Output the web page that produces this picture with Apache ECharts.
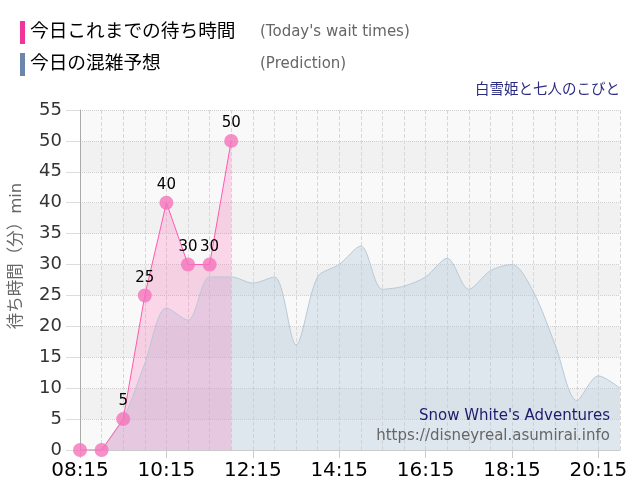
<!DOCTYPE html>
<html>
<head>
<meta charset="utf-8">
<script src="https://cdn.jsdelivr.net/npm/echarts@6/dist/echarts.min.js"></script>
<style>
html,body{margin:0;padding:0;background:#fff;}
#chart{width:640px;height:500px;}
</style>
</head>
<body>
<div id="chart"></div>
<script>
const categories = ['08:15','08:30','08:45','09:00','09:15','09:30','09:45','10:00','10:15','10:30','10:45','11:00','11:15','11:30','11:45','12:00','12:15','12:30','12:45','13:00','13:15','13:30','13:45','14:00','14:15','14:30','14:45','15:00','15:15','15:30','15:45','16:00','16:15','16:30','16:45','17:00','17:15','17:30','17:45','18:00','18:15','18:30','18:45','19:00','19:15','19:30','19:45','20:00','20:15','20:30','20:45'];
const todayWait = [0,null,0,null,5,null,25,null,40,null,30,null,30,null,50,null,null,null,null,null,null,null,null,null,null,null,null,null,null,null,null,null,null,null,null,null,null,null,null,null,null,null,null,null,null,null,null,null,null,null,null];
const prediction = [null,null,0,null,5,null,14,null,23,null,21,null,28,null,28,null,27,null,28,null,17,null,28,null,30,null,33,null,26,null,26.5,null,28,null,31,null,26,null,29,null,30,null,25.5,null,17,null,8,null,12,null,10];
const yTicks = {min:0, max:55, interval:5};
const seriesNames = ['今日これまでの待ち時間','今日の混雑予想'];
const seriesEnglish = ["(Today's wait times)", '(Prediction)'];
const attractionJa = '白雪姫と七人のこびと';
const attractionEn = "Snow White's Adventures";
const siteUrl = 'https://disneyreal.asumirai.info';
const yAxisName = '待ち時間（分）min';

const chart = echarts.init(document.getElementById('chart'), null, {renderer:'canvas'});
const font = 'Verdana, "DejaVu Sans", "Noto Sans CJK JP", sans-serif';
chart.setOption({
  animation:false,
  textStyle:{fontFamily:font},
  grid:{left:80,right:20,top:110,bottom:50,containLabel:false},
  legend:{
    orient:'vertical', left:15, top:16, itemGap:9,
    icon:'rect', itemWidth:5, itemHeight:23,
    data:[
      {name:seriesNames[0], itemStyle:{color:'#f0359a', borderWidth:0}},
      {name:seriesNames[1], itemStyle:{color:'#6a86aa', borderWidth:0}}
    ],
    formatter:function(name){
      const i = seriesNames.indexOf(name);
      return '{a|'+name+'}{b|'+seriesEnglish[i]+'}';
    },
    textStyle:{
      rich:{
        a:{fontSize:18.7, color:'#000', width:230, fontFamily:font},
        b:{fontSize:15, color:'#666', fontFamily:font}
      }
    },
    selectedMode:false
  },
  graphic:[
    {type:'text', right:20, top:83, style:{text:attractionJa, fontSize:14.5, fill:'#2b2b80', fontFamily:font}},
    {type:'text', x:17, y:256, rotation:Math.PI/2, style:{text:yAxisName, fontSize:16.5, fill:'#666', align:'center', verticalAlign:'middle', fontFamily:font}},
    {type:'text', x:610, y:416, style:{text:attractionEn, fontSize:15, fill:'#1c1c6c', align:'right', verticalAlign:'middle', fontFamily:font}, z:100},
    {type:'text', x:610, y:436, style:{text:siteUrl, fontSize:15, fill:'#666', align:'right', verticalAlign:'middle', fontFamily:font}, z:100}
  ],
  xAxis:{
    type:'category', data:categories, boundaryGap:false,
    axisLine:{lineStyle:{color:'#ccc'}},
    axisTick:{interval:7, length:8, lineStyle:{color:'#ccc'}},
    axisLabel:{interval:7, fontSize:20, color:'#000', margin:11},
    splitLine:{show:true, interval:1, lineStyle:{color:'#d8d8d8', type:'dashed'}}
  },
  yAxis:{
    type:'value', min:yTicks.min, max:yTicks.max, interval:yTicks.interval,
    axisLine:{show:true, lineStyle:{color:'#aaa'}},
    axisTick:{show:true, length:14, lineStyle:{color:'#ddd'}},
    axisLabel:{fontSize:18, color:'#333', margin:18},
    splitLine:{lineStyle:{color:'#cfcfcf', type:'dotted'}},
    splitArea:{show:true, areaStyle:{color:['#f9f9f9','#f1f1f1']}}
  },
  series:[
    {
      name:seriesNames[1], type:'line', data:prediction, connectNulls:true, smooth:0.3,
      showSymbol:false, symbol:'none',
      lineStyle:{color:'#b8c8d6', width:1},
      itemStyle:{color:'#6a86aa'},
      areaStyle:{color:'rgba(180,202,222,0.55)'}
    },
    {
      name:seriesNames[0], type:'line', data:todayWait, connectNulls:true,
      symbol:'circle', symbolSize:14, showSymbol:true, showAllSymbol:true,
      lineStyle:{color:'#ff5aae', width:1},
      itemStyle:{color:'rgba(245,115,188,0.8)', borderWidth:0},
      areaStyle:{color:'rgba(255,105,180,0.35)'},
      label:{show:true, position:'top', fontSize:15, color:'#000', distance:3,
        formatter:function(p){ return (p.dataIndex < 4) ? '' : p.value; }}
    }
  ]
});
</script>
</body>
</html>
